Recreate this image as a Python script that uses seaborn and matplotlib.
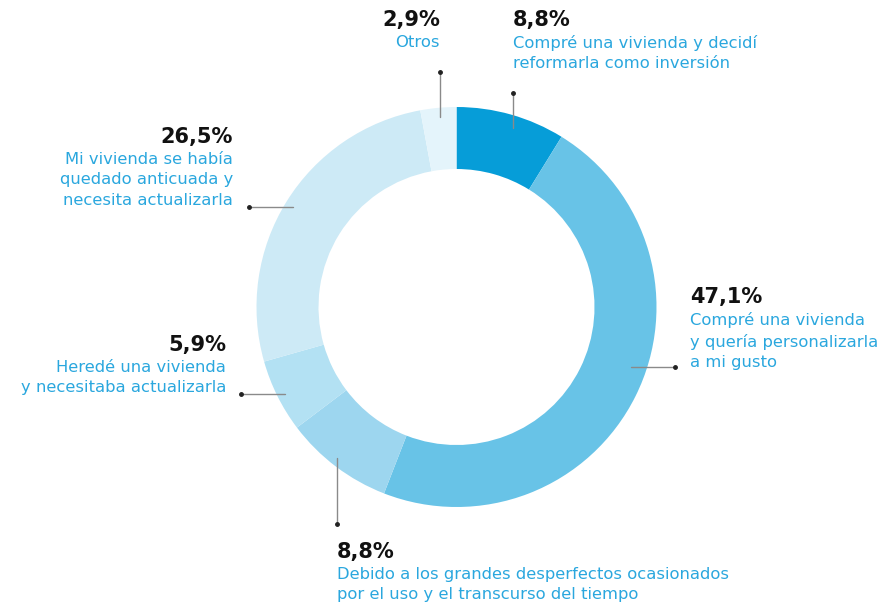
import matplotlib
matplotlib.use("Agg")
import matplotlib.pyplot as plt
import seaborn as sns

# data
shares = [8.8, 47.1, 8.8, 5.9, 26.5, 2.9]
pct_labels = ["8,8%", "47,1%", "8,8%", "5,9%", "26,5%", "2,9%"]
reasons = [
    "Compré una vivienda y decidí\nreformarla como inversión",
    "Compré una vivienda\ny quería personalizarla\na mi gusto",
    "Debido a los grandes desperfectos ocasionados\npor el uso y el transcurso del tiempo",
    "Heredé una vivienda\ny necesitaba actualizarla",
    "Mi vivienda se había\nquedado anticuada y\nnecesita actualizarla",
    "Otros",
]
colors = ["#069dd8", "#68c3e7", "#9dd6ef", "#b3e1f3", "#cdeaf6", "#e4f4fb"]

sns.set_theme(style="white")
plt.rcParams["font.family"] = ["DejaVu Sans"]

W, H = 890, 608
fig = plt.figure(figsize=(W / 100, H / 100), dpi=100)
ax = fig.add_axes([0, 0, 1, 1])

cx, cy, R = 456.5, H - 307, 200
ax.pie(shares, colors=colors, startangle=90, counterclock=False,
       center=(cx, cy), radius=R, frame=True,
       wedgeprops=dict(width=62, linewidth=0))
ax.set_xlim(0, W)
ax.set_ylim(0, H)
ax.set_aspect("equal")
ax.axis("off")

blue = "#2aa7de"
# layout of each annotation: text anchor x, percent y, alignment, leader line
layout = [
    (513, 20, "left", [(513, 128), (513, 93)]),
    (690, 297, "left", [(631, 367), (675, 367)]),
    (337, 552, "left", [(337, 458), (337, 524)]),
    (226, 345, "right", [(285, 394), (241, 394)]),
    (233, 137, "right", [(293, 207), (249, 207)]),
    (440, 20, "right", [(440, 117), (440, 72)]),
]

for pct, txt, (x, y, ha, line) in zip(pct_labels, reasons, layout):
    ax.text(x, H - y, pct, ha=ha, va="center", fontsize=15,
            fontweight="bold", color="#111111")
    ax.text(x, H - y - 15, txt, ha=ha, va="top", fontsize=11.8,
            color=blue, linespacing=1.45)
    (x0, y0), (x1, y1) = line
    ax.plot([x0, x1], [H - y0, H - y1], color="#8a8a8a", lw=1)
    ax.plot([x1], [H - y1], "o", color="#222222", ms=2.5)

fig.savefig("out.png", dpi=100)
